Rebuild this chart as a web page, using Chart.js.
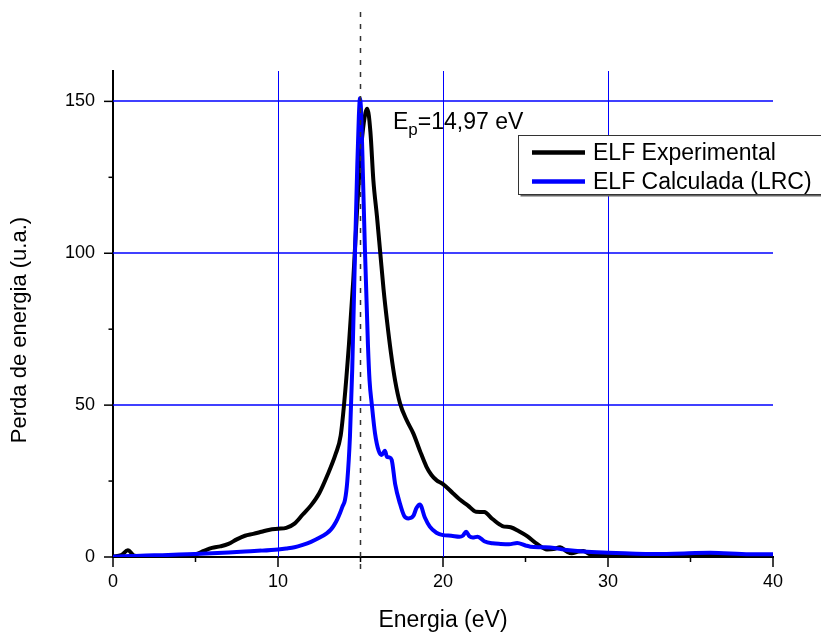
<!DOCTYPE html>
<html>
<head>
<meta charset="utf-8">
<script src="https://cdn.jsdelivr.net/npm/chart.js@4.4.0/dist/chart.umd.min.js"></script>
<style>
  html, body { margin: 0; padding: 0; background: #fff; }
</style>
</head>
<body>
<canvas id="elfChart" width="821" height="633"></canvas>
<script>
// ELF experimental (black)
const expEnergy = [0, 0.5, 0.9, 1.3, 2, 3, 4, 5, 5.5, 6, 6.5, 7, 7.5, 8, 8.5, 9, 9.5, 10, 10.5, 11, 11.5, 12, 12.5, 13, 13.5, 13.8,
  14.0, 14.3, 14.56, 14.8, 15.0, 15.2, 15.41, 15.6, 15.78, 16.0, 16.2, 16.4, 16.6, 16.85, 17.1, 17.4, 17.8, 18.2, 18.6, 19.0, 19.3, 19.6,
  20.0, 20.6, 21.0, 21.5, 22.0, 22.5, 23.0, 23.6, 24.1, 24.6, 25.1, 25.7, 26.3, 26.7, 27.1, 27.5, 27.8, 28.2, 28.5, 28.9, 29.5,
  30, 32, 34, 36, 38, 40];
const expLoss = [0.2, 0.6, 2.2, 0.4, 0.2, 0.3, 0.5, 0.9, 2, 3, 3.5, 4.3, 5.8, 7, 7.6, 8.3, 9, 9.3, 9.6, 11, 14, 17, 21, 27, 34, 40,
  50, 70, 91, 115, 132, 143, 147.6, 140, 124, 112, 100, 88, 78, 67, 58, 50.5, 45, 40.7, 35, 29.7, 27, 25.3,
  24, 21, 19, 17, 14.9, 14.8, 12.5, 10.2, 9.8, 8.5, 6.9, 4.3, 2.5, 2.6, 3.2, 1.8, 1.2, 1.8, 2.0, 0.9, 0.6,
  0.5, 0.4, 0.4, 0.5, 0.4, 0.4];

// ELF calculated LRC (blue)
const calcEnergy = [0, 1, 2, 3, 4, 5, 6, 7, 8, 9, 10, 10.5, 11, 11.5, 12, 12.5, 12.95, 13.2, 13.4, 13.6, 13.76, 13.9, 14.06, 14.2,
  14.36, 14.5, 14.67, 14.8, 14.9, 14.97, 15.05, 15.15, 15.27, 15.45, 15.55, 15.68, 15.88, 16.1, 16.28, 16.48, 16.6, 16.75, 16.89,
  17.1, 17.39, 17.65, 17.9, 18.2, 18.4, 18.6, 18.9, 19.2, 19.6, 20.0, 20.5, 21.0, 21.2, 21.4, 21.6, 21.8, 22.1, 22.5, 23.0, 23.5,
  24.0, 24.5, 25.0, 25.3, 26.0, 26.5, 27.5, 28.5, 30, 31, 32.5, 34, 36.2, 38.6, 40];
const calcLoss = [0.1, 0.3, 0.5, 0.6, 0.8, 1.0, 1.2, 1.5, 1.8, 2.1, 2.5, 2.8, 3.2, 4, 5, 6.3, 7.8, 9, 10.5, 12.5, 14.5, 16.5, 18.8, 25,
  39.6, 62, 101, 128, 145, 151, 145, 125, 101, 70, 58, 50.5, 40.7, 35, 33.6, 35, 33, 32.8, 32,
  24, 17.6, 13.5, 12.7, 13.5, 16.2, 17.3, 13, 10, 8, 7.2, 7, 6.7, 7, 8.3, 6.8, 6.4, 6.7, 5.2, 4.5, 4.3,
  4.2, 4.6, 3.8, 3.4, 3.2, 3.1, 2.3, 1.8, 1.4, 1.2, 1.0, 1.1, 1.4, 0.9, 0.9];

const seriesNames = ['ELF Experimental', 'ELF Calculada (LRC)'];
const seriesColors = ['#000000', '#0000ff'];
const xTickLabels = [0, 10, 20, 30, 40];
const yTickLabels = [0, 50, 100, 150];
const xGridValues = [10, 20, 30];
const yGridValues = [50, 100, 150];
const plasmonEnergy = 14.97;

const FONT = 'Arial, "Liberation Sans", sans-serif';
const GRID_BLUE = '#0000ff';

function toPoints(xs, ys) {
  return xs.map((x, i) => ({ x: x, y: ys[i] }));
}

// grid, ticks, dashed line, legend, annotation, axis titles
const decorPlugin = {
  id: 'decor',
  beforeDatasetsDraw(chart) {
    const ctx = chart.ctx;
    const area = chart.chartArea;
    ctx.save();
    ctx.strokeStyle = GRID_BLUE;
    ctx.lineWidth = 1;
    xGridValues.forEach(v => {
      const p = Math.round(chart.scales.x.getPixelForValue(v)) + 0.5;
      ctx.beginPath();
      ctx.moveTo(p, area.top);
      ctx.lineTo(p, area.bottom);
      ctx.stroke();
    });
    ctx.lineWidth = 1.4;
    yGridValues.forEach(v => {
      const p = Math.round(chart.scales.y.getPixelForValue(v));
      ctx.beginPath();
      ctx.moveTo(area.left, p);
      ctx.lineTo(area.right, p);
      ctx.stroke();
    });
    ctx.restore();
  },
  afterDatasetsDraw(chart) {
    const ctx = chart.ctx;
    const px = Math.round(chart.scales.x.getPixelForValue(plasmonEnergy)) + 0.5;
    ctx.save();
    ctx.strokeStyle = '#333';
    ctx.lineWidth = 1.5;
    ctx.setLineDash([5, 7]);
    ctx.beginPath();
    ctx.moveTo(px, 12);
    ctx.lineTo(px, 572);
    ctx.stroke();
    ctx.restore();
  },
  afterDraw(chart) {
    const ctx = chart.ctx;
    const xs = chart.scales.x, ys = chart.scales.y;
    const area = chart.chartArea;
    ctx.save();

    // tick marks
    ctx.strokeStyle = '#000';
    ctx.lineWidth = 1.5;
    for (let v = 0; v <= 40; v += 5) {
      const p = xs.getPixelForValue(v);
      const len = v % 10 === 0 ? 10 : 5;
      ctx.beginPath();
      ctx.moveTo(p, area.bottom);
      ctx.lineTo(p, area.bottom + len);
      ctx.stroke();
    }
    for (let v = 0; v <= 150; v += 25) {
      const p = ys.getPixelForValue(v);
      const len = v % 50 === 0 ? 9 : 4.5;
      ctx.beginPath();
      ctx.moveTo(area.left, p);
      ctx.lineTo(area.left - len, p);
      ctx.stroke();
    }

    // axis titles
    ctx.fillStyle = '#000';
    ctx.font = '23px ' + FONT;
    ctx.textAlign = 'center';
    ctx.textBaseline = 'middle';
    ctx.fillText('Energia (eV)', (area.left + area.right) / 2, 621);
    ctx.font = '22px ' + FONT;
    ctx.save();
    ctx.translate(20, 330);
    ctx.rotate(-Math.PI / 2);
    ctx.fillText('Perda de energia (u.a.)', 0, 0);
    ctx.restore();

    // plasmon annotation
    ctx.textAlign = 'left';
    ctx.textBaseline = 'alphabetic';
    let tx = 393;
    ctx.font = '23px ' + FONT;
    ctx.fillText('E', tx, 128.5);
    tx += ctx.measureText('E').width;
    ctx.font = '17px ' + FONT;
    ctx.fillText('p', tx, 135);
    tx += ctx.measureText('p').width;
    ctx.font = '23px ' + FONT;
    ctx.fillText('=' + plasmonEnergy.toFixed(2).replace('.', ',') + ' eV', tx, 128.5);

    // legend box
    const bx = 518.5, by = 135.5, bw = 320, bh = 59;
    ctx.fillStyle = '#666';
    ctx.fillRect(bx + 2, by + 2, bw, bh);
    ctx.fillStyle = '#fff';
    ctx.fillRect(bx, by, bw, bh);
    ctx.strokeStyle = '#333';
    ctx.lineWidth = 1;
    ctx.strokeRect(bx, by, bw, bh);
    ctx.font = '23px ' + FONT;
    const rows = [152.5, 181.5];
    chart.data.datasets.forEach((ds, i) => {
      ctx.strokeStyle = ds.borderColor;
      ctx.lineWidth = 4.5;
      ctx.beginPath();
      ctx.moveTo(532, rows[i]);
      ctx.lineTo(585, rows[i]);
      ctx.stroke();
      ctx.fillStyle = '#000';
      ctx.fillText(ds.label, 593, rows[i] + 7.5);
    });
    ctx.restore();
  }
};

const ctx = document.getElementById('elfChart').getContext('2d');
new Chart(ctx, {
  type: 'line',
  data: {
    datasets: [
      {
        label: seriesNames[0],
        data: toPoints(expEnergy, expLoss),
        borderColor: seriesColors[0],
        borderWidth: 4,
        pointRadius: 0,
        cubicInterpolationMode: 'monotone',
        borderJoinStyle: 'round',
        borderCapStyle: 'round',
        order: 2
      },
      {
        label: seriesNames[1],
        data: toPoints(calcEnergy, calcLoss),
        borderColor: seriesColors[1],
        borderWidth: 4,
        pointRadius: 0,
        cubicInterpolationMode: 'monotone',
        borderJoinStyle: 'round',
        borderCapStyle: 'round',
        order: 1
      }
    ]
  },
  options: {
    responsive: false,
    animation: false,
    devicePixelRatio: 1,
    layout: { padding: { left: 8, right: 48, top: 71, bottom: 0 } },
    plugins: {
      legend: { display: false },
      tooltip: { enabled: false }
    },
    scales: {
      x: {
        type: 'linear',
        min: 0,
        max: 40,
        afterFit: (scale) => { scale.height = 76; },
        border: { display: true, color: '#000', width: 2 },
        grid: { display: false, drawTicks: false },
        ticks: {
          stepSize: 5,
          padding: 14,
          color: '#000',
          font: { family: FONT, size: 18 },
          maxRotation: 0,
          autoSkip: false,
          callback: (v) => xTickLabels.includes(v) ? String(v) : ''
        }
      },
      y: {
        type: 'linear',
        min: 0,
        max: 160,
        afterFit: (scale) => { scale.width = 105; },
        border: { display: true, color: '#000', width: 2 },
        grid: { display: false, drawTicks: false },
        ticks: {
          stepSize: 25,
          padding: 18,
          color: '#000',
          font: { family: FONT, size: 18 },
          autoSkip: false,
          callback: (v) => yTickLabels.includes(v) ? String(v) : ''
        }
      }
    }
  },
  plugins: [decorPlugin]
});
</script>
</body>
</html>
